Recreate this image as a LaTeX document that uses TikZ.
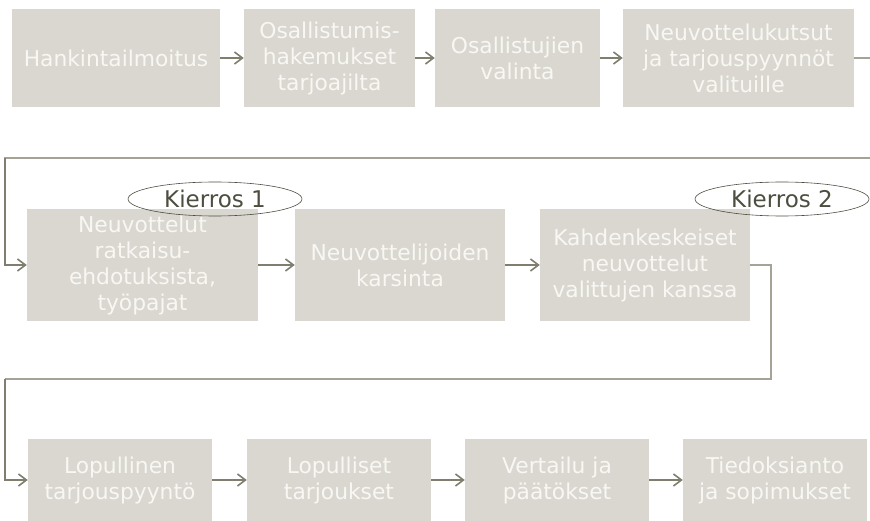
\documentclass[tikz,border=0pt]{standalone}
\usepackage{fontspec}
\setmainfont{DejaVu Sans}
\usetikzlibrary{shapes.geometric,arrows.meta}
\definecolor{boxfill}{RGB}{217,215,207}
\definecolor{boxtext}{RGB}{248,247,243}
\definecolor{linkcol}{RGB}{128,126,110}
\definecolor{wirecol}{RGB}{165,163,150}
\definecolor{roundtext}{RGB}{77,77,64}
\tikzset{
  stage/.style={rectangle, fill=boxfill, text=boxtext, align=center, inner sep=0pt,
    font=\fontsize{21.8}{26}\selectfont},
  link/.style={draw=linkcol, line width=1.3pt, -{Straight Barb[length=8pt,width=12pt,line width=1.6pt]}},
  plain/.style={draw=wirecol, line width=1.3pt},
  roundtag/.style={ellipse, draw=roundtext, line width=0.6pt, inner sep=0pt,
    text=roundtext, font=\fontsize{23}{26}\selectfont},
}
\begin{document}
\begin{tikzpicture}[x=1pt,y=-1pt]
\useasboundingbox (0,0) rectangle (870,521);
% row 1
\node[stage, minimum width=208, minimum height=98] (s1) at (116,58) {Hankintailmoitus};
\node[stage, minimum width=171, minimum height=98] (s2) at (329.5,58) {Osallistumis-\\hakemukset\\tarjoajilta};
\node[stage, minimum width=165, minimum height=98] (s3) at (517.5,58) {Osallistujien\\valinta};
\node[stage, minimum width=231, minimum height=98] (s4) at (738.5,58) {Neuvottelukutsut\\ja tarjouspyynnöt\\valituille};
% row 2
\node[stage, minimum width=231, minimum height=112] (s5) at (142.5,265) {Neuvottelut\\ratkaisu-\\ehdotuksista,\\työpajat};
\node[stage, minimum width=210, minimum height=112] (s6) at (400,265) {Neuvottelijoiden\\karsinta};
\node[stage, minimum width=210, minimum height=112] (s7) at (645,265) {Kahdenkeskeiset\\neuvottelut\\valittujen kanssa};
% row 3
\node[stage, minimum width=184, minimum height=82] (s8) at (120,480) {Lopullinen\\tarjouspyyntö};
\node[stage, minimum width=184, minimum height=82] (s9) at (339,480) {Lopulliset\\tarjoukset};
\node[stage, minimum width=184, minimum height=82] (s10) at (557,480) {Vertailu ja\\päätökset};
\node[stage, minimum width=184, minimum height=82] (s11) at (775,480) {Tiedoksianto\\ja sopimukset};
% round labels
\node[roundtag, minimum width=174, minimum height=34] (k1) at (215,199) {Kierros 1};
\node[roundtag, minimum width=174, minimum height=34] (k2) at (782,199) {Kierros 2};
% free ends of the wrap-around lines
\coordinate (e1) at (870,58);
\coordinate (e2) at (870,158);
\coordinate (c1) at (5,158);
\coordinate (c2) at (771,265);
\coordinate (c3) at (771,379);
\coordinate (c4) at (5,379);
% connectors
\draw[link] (s1) -- (s2);
\draw[link] (s2) -- (s3);
\draw[link] (s3) -- (s4);
\draw[plain] (s4.east) -- (e1);
\draw[plain] (e2) -- (c1) -- (5,262);
\draw[link] (c1) |- (s5.west);
\draw[link] (s5) -- (s6);
\draw[link] (s6) -- (s7);
\draw[plain] (s7.east) -- (c2) -- (c3) -- (c4);
\draw[plain] (c4) -- (5,477);
\draw[link] (c4) |- (s8.west);
\draw[link] (s8) -- (s9);
\draw[link] (s9) -- (s10);
\draw[link] (s10) -- (s11);
\end{tikzpicture}
\end{document}
